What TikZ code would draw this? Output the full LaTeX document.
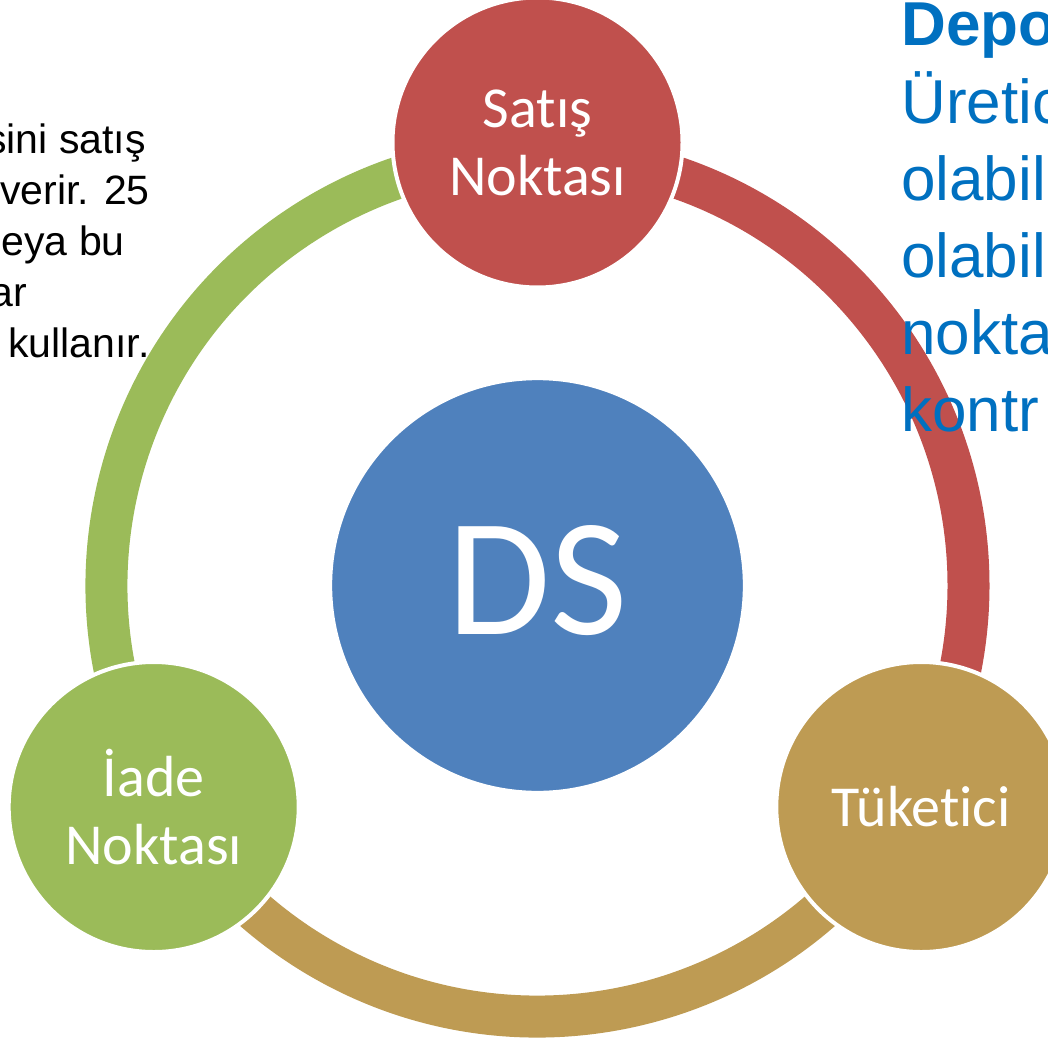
\documentclass[tikz,border=0pt]{standalone}
\usepackage{fontspec}
\setmainfont{Carlito}[Ligatures=NoCommon]
\newfontfamily\arialf{Liberation Sans}
\definecolor{cred}{HTML}{C0504D}
\definecolor{cgreen}{HTML}{9BBB59}
\definecolor{cgold}{HTML}{BE9B53}
\definecolor{cblue}{HTML}{4F81BD}
\definecolor{ctext}{HTML}{0070C0}
\begin{document}
\begin{tikzpicture}[x=0.75pt,y=-0.75pt,
  ring/.style={line width=31.5pt},
  stage/.style={circle, draw=white, line width=3pt, minimum size=217.5pt, inner sep=0pt,
    text=white, align=center, font=\fontsize{43.5pt}{51pt}\selectfont},
  hub/.style={circle, draw=white, line width=3pt, fill=cblue, minimum size=311pt, inner sep=0pt,
    text=white, text depth=9pt, font=\fontsize{126pt}{140pt}\selectfont},
  lefttxt/.style={anchor=base east, inner sep=0pt, text=black, font=\arialf\fontsize{30.75pt}{38pt}\selectfont},
  righttxt/.style={anchor=base west, inner sep=0pt, text=ctext, font=\arialf\fontsize{46.5pt}{57.75pt}\selectfont}]
\useasboundingbox (0,0) rectangle (1048,1038);
% centre
\node[hub] (ds) at (537.5,585.5) {DS};
% ring arcs
\draw[ring, cgreen] (ds.center) ++(150:431) arc[start angle=150, end angle=270, radius=431];
\draw[ring, cred]   (ds.center) ++(270:431) arc[start angle=270, end angle=390, radius=431];
\draw[ring, cgold]  (ds.center) ++(30:431)  arc[start angle=30, end angle=150, radius=431];
% stages
\node[stage, fill=cred]   (satis) at (537.5,142.5) {Satış\\Noktası};
\node[stage, fill=cgold]  (tuk)   at (921.3,807)   {Tüketici};
\node[stage, fill=cgreen] (iade)  at (153.7,807)   {İade\\Noktası};
% left text (partly outside the picture)
\node[lefttxt] (l1) at (146,153) {sini satış};
\node[lefttxt] (l2) at (150,204) {verir. 25};
\node[lefttxt] (l3) at (125,255) {eya bu};
\node[lefttxt] (l4) at (27,306)  {ar};
\node[lefttxt] (l5) at (150,357) {kullanır.};
% right text (partly outside the picture)
\node[righttxt] (r1) at (901,46)  {\bfseries Depo};
\node[righttxt] (r2) at (901,123) {Üretic};
\node[righttxt] (r3) at (901,200) {olabil};
\node[righttxt] (r4) at (901,277) {olabil};
\node[righttxt] (r5) at (901,354) {nokta};
\node[righttxt] (r6) at (901,431) {kontr};
\end{tikzpicture}
\end{document}
